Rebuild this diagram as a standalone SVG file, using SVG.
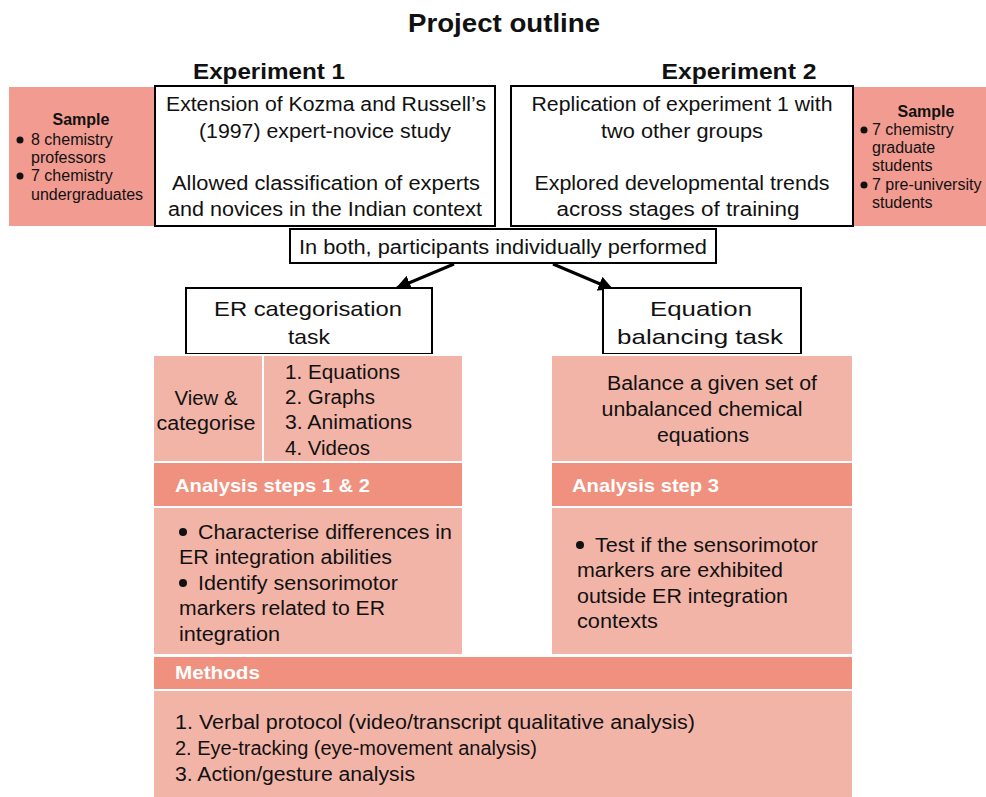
<svg xmlns="http://www.w3.org/2000/svg" width="986" height="797" viewBox="0 0 986 797">
  <defs>
    <marker id="arrow" viewBox="0 0 10 10" refX="9" refY="5" markerWidth="5" markerHeight="5" orient="auto" markerUnits="strokeWidth">
      <path d="M0,0 L10,5 L0,10 z" fill="#000"/>
    </marker>
  </defs>
  <style>
    text { font-family: "Liberation Sans", Arial, sans-serif; fill: #111; }
    .title { font-size: 26px; font-weight: bold; }
    .exp { font-size: 22px; font-weight: bold; }
    .box { fill: #fff; stroke: #000; stroke-width: 2; }
    .sample { fill: #F29B91; }
    .light { fill: #F3B4A8; stroke: #fff; stroke-width: 2; }
    .head { fill: #F0907E; stroke: #fff; stroke-width: 2; }
    .sm { font-size: 16px; }
    .smb { font-size: 16px; font-weight: bold; }
    .md { font-size: 19.5px; }
    .tk { font-size: 21px; }
    .hd { font-size: 18.5px; font-weight: bold; fill: #fff; }
    .c { text-anchor: middle; }
    .link { stroke: #000; stroke-width: 3; fill: none; }
  </style>

  <rect width="986" height="797" fill="#fff"/>

  <text class="title c" x="504" y="32" textLength="192" lengthAdjust="spacingAndGlyphs">Project outline</text>
  <text class="exp c" x="269" y="79" textLength="152" lengthAdjust="spacingAndGlyphs">Experiment 1</text>
  <text class="exp c" x="739" y="79" textLength="155" lengthAdjust="spacingAndGlyphs">Experiment 2</text>

  <!-- Sample, experiment 1 -->
  <g id="sample1">
    <rect class="sample" x="9" y="87" width="145" height="139"/>
    <text class="smb c" x="81" y="125">Sample</text>
    <circle cx="20" cy="140" r="3.5" fill="#111"/>
    <text class="sm" x="31" y="145">8 chemistry</text>
    <text class="sm" x="31" y="163">professors</text>
    <circle cx="20" cy="176" r="3.5" fill="#111"/>
    <text class="sm" x="31" y="181">7 chemistry</text>
    <text class="sm" x="31" y="200">undergraduates</text>
  </g>

  <!-- Experiment 1 description -->
  <g id="exp1">
    <rect class="box" x="155" y="86" width="340" height="140"/>
    <text class="md c" x="326" y="111" textLength="320" lengthAdjust="spacingAndGlyphs">Extension of Kozma and Russell’s</text>
    <text class="md c" x="325" y="138" textLength="252" lengthAdjust="spacingAndGlyphs">(1997) expert-novice study</text>
    <text class="md c" x="326" y="190" textLength="308" lengthAdjust="spacingAndGlyphs">Allowed classification of experts</text>
    <text class="md c" x="325" y="216" textLength="314" lengthAdjust="spacingAndGlyphs">and novices in the Indian context</text>
  </g>

  <!-- Experiment 2 description -->
  <g id="exp2">
    <rect class="box" x="511" y="86" width="342" height="140"/>
    <text class="md c" x="682" y="111" textLength="301" lengthAdjust="spacingAndGlyphs">Replication of experiment 1 with</text>
    <text class="md c" x="682" y="138" textLength="162" lengthAdjust="spacingAndGlyphs">two other groups</text>
    <text class="md c" x="682" y="190" textLength="295" lengthAdjust="spacingAndGlyphs">Explored developmental trends</text>
    <text class="md c" x="678" y="216" textLength="243" lengthAdjust="spacingAndGlyphs">across stages of training</text>
  </g>

  <!-- Sample, experiment 2 -->
  <g id="sample2">
    <rect class="sample" x="854" y="87" width="132" height="139"/>
    <text class="smb c" x="926" y="117">Sample</text>
    <circle cx="864" cy="130" r="3.5" fill="#111"/>
    <text class="sm" x="872" y="135">7 chemistry</text>
    <text class="sm" x="872" y="153">graduate</text>
    <text class="sm" x="872" y="171">students</text>
    <circle cx="864" cy="185" r="3.5" fill="#111"/>
    <text class="sm" x="872" y="190">7 pre-university</text>
    <text class="sm" x="872" y="208">students</text>
  </g>

  <!-- Shared procedure -->
  <g id="both">
    <rect class="box" x="290" y="229" width="426" height="34"/>
    <text class="md c" x="503" y="254" textLength="408" lengthAdjust="spacingAndGlyphs">In both, participants individually performed</text>
  </g>

  <g id="connectors">
    <line class="link" x1="454" y1="264" x2="397" y2="288" marker-end="url(#arrow)"/>
    <line class="link" x1="553" y1="264" x2="612" y2="289" marker-end="url(#arrow)"/>
  </g>

  <!-- Task headers -->
  <g id="er-task">
    <rect class="box" x="186" y="288" width="246" height="66"/>
    <text class="tk c" x="308" y="316" textLength="188" lengthAdjust="spacingAndGlyphs">ER categorisation</text>
    <text class="tk c" x="309" y="344" textLength="42" lengthAdjust="spacingAndGlyphs">task</text>
  </g>
  <g id="eq-task">
    <rect class="box" x="603" y="288" width="198" height="66"/>
    <text class="tk c" x="701" y="316" textLength="102" lengthAdjust="spacingAndGlyphs">Equation</text>
    <text class="tk c" x="700" y="344" textLength="166" lengthAdjust="spacingAndGlyphs">balancing task</text>
  </g>

  <!-- ER categorisation panel -->
  <g id="er-panel">
    <rect class="light" x="153" y="355" width="110" height="107"/>
    <rect class="light" x="263" y="355" width="200" height="107"/>
    <text class="md c" x="206" y="405" textLength="63" lengthAdjust="spacingAndGlyphs">View &amp;</text>
    <text class="md c" x="206" y="430" textLength="99" lengthAdjust="spacingAndGlyphs">categorise</text>
    <text class="md" x="285" y="379" textLength="115" lengthAdjust="spacingAndGlyphs">1. Equations</text>
    <text class="md" x="285" y="404" textLength="90" lengthAdjust="spacingAndGlyphs">2. Graphs</text>
    <text class="md" x="285" y="429" textLength="127" lengthAdjust="spacingAndGlyphs">3. Animations</text>
    <text class="md" x="285" y="455" textLength="85" lengthAdjust="spacingAndGlyphs">4. Videos</text>
    <rect class="head" x="153" y="462" width="310" height="45"/>
    <text class="hd" x="175" y="492" textLength="195" lengthAdjust="spacingAndGlyphs">Analysis steps 1 &amp; 2</text>
    <rect class="light" x="153" y="507" width="310" height="148"/>
    <circle cx="183" cy="532" r="4" fill="#111"/>
    <text class="md" x="198" y="539" textLength="254" lengthAdjust="spacingAndGlyphs">Characterise differences in</text>
    <text class="md" x="179" y="564" textLength="213" lengthAdjust="spacingAndGlyphs">ER integration abilities</text>
    <circle cx="183" cy="583" r="4" fill="#111"/>
    <text class="md" x="198" y="590" textLength="200" lengthAdjust="spacingAndGlyphs">Identify sensorimotor</text>
    <text class="md" x="179" y="615" textLength="206" lengthAdjust="spacingAndGlyphs">markers related to ER</text>
    <text class="md" x="179" y="641" textLength="101" lengthAdjust="spacingAndGlyphs">integration</text>
  </g>

  <!-- Equation balancing panel -->
  <g id="eq-panel">
    <rect class="light" x="551" y="355" width="302" height="107"/>
    <text class="md c" x="712" y="390" textLength="210" lengthAdjust="spacingAndGlyphs">Balance a given set of</text>
    <text class="md c" x="702" y="416" textLength="201" lengthAdjust="spacingAndGlyphs">unbalanced chemical</text>
    <text class="md c" x="703" y="442" textLength="92" lengthAdjust="spacingAndGlyphs">equations</text>
    <rect class="head" x="551" y="462" width="302" height="45"/>
    <text class="hd" x="572" y="492" textLength="147" lengthAdjust="spacingAndGlyphs">Analysis step 3</text>
    <rect class="light" x="551" y="507" width="302" height="148"/>
    <circle cx="580" cy="545" r="4" fill="#111"/>
    <text class="md" x="595" y="552" textLength="223" lengthAdjust="spacingAndGlyphs">Test if the sensorimotor</text>
    <text class="md" x="577" y="577" textLength="206" lengthAdjust="spacingAndGlyphs">markers are exhibited</text>
    <text class="md" x="577" y="603" textLength="211" lengthAdjust="spacingAndGlyphs">outside ER integration</text>
    <text class="md" x="577" y="628" textLength="81" lengthAdjust="spacingAndGlyphs">contexts</text>
  </g>

  <!-- Methods -->
  <g id="methods">
    <rect class="head" x="153" y="656" width="700" height="34"/>
    <text class="hd" x="175" y="679" textLength="85" lengthAdjust="spacingAndGlyphs">Methods</text>
    <rect class="light" x="153" y="690" width="700" height="109"/>
    <text class="md" x="175" y="729" textLength="520" lengthAdjust="spacingAndGlyphs">1. Verbal protocol (video/transcript qualitative analysis)</text>
    <text class="md" x="175" y="755" textLength="362" lengthAdjust="spacingAndGlyphs">2. Eye-tracking (eye-movement analysis)</text>
    <text class="md" x="175" y="781" textLength="240" lengthAdjust="spacingAndGlyphs">3. Action/gesture analysis</text>
  </g>
</svg>
